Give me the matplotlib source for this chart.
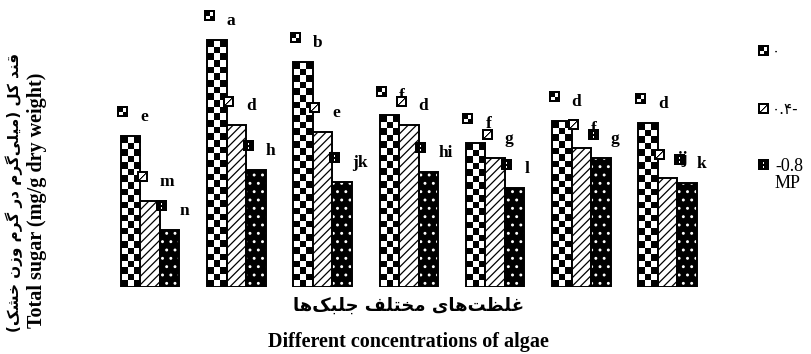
import numpy as np
import matplotlib
matplotlib.use("Agg")
import matplotlib.pyplot as plt

# mean total sugar per algae concentration (7 levels), three MP treatments
control = [7.54, 12.34, 11.25, 8.58, 7.20, 8.30, 8.20]
mp_04 = [4.30, 8.08, 7.75, 8.08, 6.42, 6.92, 5.42]
mp_08 = [2.84, 5.84, 5.25, 5.75, 4.92, 6.42, 5.17]

# Duncan letters
let_control = ["e", "a", "b", "f", "f", "d", "d"]
let_04 = ["m", "d", "e", "d", "g", "f", "ij"]
let_08 = ["n", "h", "jk", "hi", "l", "g", "k"]

legend_labels = ["۰", "۰.۴-", "-0.8\nMP"]
ylabel_fa = "قند کل (میلی‌گرم در گرم وزن خشک)"
ylabel_en = "Total sugar (mg/g dry weight)"
xlabel_fa = "غلظت‌های مختلف جلبک‌ها"
xlabel_en = "Different concentrations of algae"


# very small persian shaper (matplotlib has no shaping / bidi)
FORMS = {
    "ا": ("\uFE8D", "\uFE8E", None, None),
    "ب": ("\uFE8F", "\uFE90", "\uFE91", "\uFE92"),
    "ت": ("\uFE95", "\uFE96", "\uFE97", "\uFE98"),
    "ج": ("\uFE9D", "\uFE9E", "\uFE9F", "\uFEA0"),
    "خ": ("\uFEA5", "\uFEA6", "\uFEA7", "\uFEA8"),
    "د": ("\uFEA9", "\uFEAA", None, None),
    "ر": ("\uFEAD", "\uFEAE", None, None),
    "ز": ("\uFEAF", "\uFEB0", None, None),
    "ش": ("\uFEB5", "\uFEB6", "\uFEB7", "\uFEB8"),
    "ظ": ("\uFEC5", "\uFEC6", "\uFEC7", "\uFEC8"),
    "غ": ("\uFECD", "\uFECE", "\uFECF", "\uFED0"),
    "ف": ("\uFED1", "\uFED2", "\uFED3", "\uFED4"),
    "ق": ("\uFED5", "\uFED6", "\uFED7", "\uFED8"),
    "ل": ("\uFEDD", "\uFEDE", "\uFEDF", "\uFEE0"),
    "م": ("\uFEE1", "\uFEE2", "\uFEE3", "\uFEE4"),
    "ن": ("\uFEE5", "\uFEE6", "\uFEE7", "\uFEE8"),
    "ه": ("\uFEE9", "\uFEEA", "\uFEEB", "\uFEEC"),
    "و": ("\uFEED", "\uFEEE", None, None),
    "ی": ("\uFBFC", "\uFBFD", "\uFBFE", "\uFBFF"),
    "ک": ("\uFB8E", "\uFB8F", "\uFB90", "\uFB91"),
    "گ": ("\uFB92", "\uFB93", "\uFB94", "\uFB95"),
}


def shape(text):
    out = []
    for i, c in enumerate(text):
        if c not in FORMS:
            out.append(c)
            continue
        prev = text[i - 1] if i > 0 else None
        nxt = text[i + 1] if i + 1 < len(text) else None
        iso, fin, ini, med = FORMS[c]
        jp = prev in FORMS and FORMS[prev][2] is not None
        jn = nxt in FORMS and ini is not None
        if jp and jn:
            out.append(med)
        elif jp:
            out.append(fin)
        elif jn:
            out.append(ini)
        else:
            out.append(iso)
    s = "".join(ch for ch in out if ch != "\u200c")[::-1]
    return s.translate(str.maketrans("()", ")("))


W, H = 811, 354
fig = plt.figure(figsize=(W / 100, H / 100), dpi=100)
ax = fig.add_axes([106.9 / W, 1 - 286.7 / H, 603.9 / W, 280 / H])
ax.set_xlim(-0.5, 6.5)
ax.set_ylim(0, 14)
ax.set_autoscale_on(False)
ax.axis("off")

x = np.arange(len(control))
w = 0.226
px_per_unit = 20.0

# checkered bars (checker texture drawn as an image inside each bar)
for xi, v in zip(x, control):
    nrow = max(1, int(round(v * px_per_unit / 6.6)))
    chk = (np.add.outer(np.arange(nrow), np.arange(3)) % 2).astype(float)
    ax.imshow(chk, extent=(xi - 1.5 * w, xi - 0.5 * w, 0, v), aspect="auto",
              cmap="gray", vmin=0, vmax=1, interpolation="nearest", zorder=2)
b1 = ax.bar(x - w, control, w, color="none", edgecolor="black", lw=1.4, zorder=3)

# hatched bars
plt.rcParams["hatch.linewidth"] = 0.9
b2 = ax.bar(x, mp_04, w, color="white", edgecolor="black", hatch="////", lw=1.4, zorder=3)

# black bars with white dots
ax.bar(x + w, mp_08, w, color="black", edgecolor="white", hatch="..", lw=0, zorder=3)
b3 = ax.bar(x + w, mp_08, w, color="none", edgecolor="black", lw=1.4, zorder=4)


def icon(kind, n=11):
    a = np.zeros((n, n))
    if kind == "chk":
        a[2:6, 6:9] = 1
        a[6:9, 2:6] = 1
    elif kind == "hat":
        a[2:-2, 2:-2] = 1
        for k in range(2, n - 2):
            a[n - 1 - k, k] = 0
            if k + 1 < n - 2:
                a[n - 1 - k, k + 1] = 0.4
    else:
        a[3:5, 5] = 1
        a[7:9, 5] = 1
    return np.dstack([a, a, a])


icons = {"chk": icon("chk"), "hat": icon("hat"), "dot": icon("dot")}

fig.canvas.draw()
series = [(x - 1.5 * w, control, let_control, "chk"),
          (x - 0.5 * w, mp_04, let_04, "hat"),
          (x + 0.5 * w, mp_08, let_08, "dot")]
for lefts, vals, lets, kind in series:
    for xl, v, lab in zip(lefts, vals, lets):
        dx, dy = ax.transData.transform((xl, v))
        fig.figimage(icons[kind], xo=int(round(dx + 2 - 5.5)), yo=int(round(dy + 24 - 5.5)),
                     zorder=5, origin="upper")
        ax.annotate(lab, xy=(xl, v), xytext=(19.5, 15), textcoords="offset pixels",
                    ha="left", va="baseline", fontsize=12.5, fontweight="bold",
                    family="Liberation Serif", zorder=6, annotation_clip=False)

# legend at the right
leg_y = [51, 109, 165]
for kind, yy, lab in zip(["chk", "hat", "dot"], leg_y, legend_labels):
    fig.figimage(icons[kind], xo=758, yo=int(round(H - yy - 5.5)), origin="upper")
    if lab.startswith("-"):
        fig.text(775 / W, 1 - (yy - 7) / H, lab, ha="left", va="top", fontsize=13,
                 family="Liberation Serif", linespacing=1.0)
    else:
        fig.text(772 / W, 1 - yy / H, lab, ha="left", va="center", fontsize=11,
                 family="DejaVu Sans")

# axis titles
fig.text(14 / W, 1 - 192 / H, shape(ylabel_fa), rotation=90, ha="center", va="center",
         fontsize=11, fontweight="bold", family="DejaVu Sans")
fig.text(37 / W, 1 - 200 / H, ylabel_en, rotation=90, ha="center", va="center",
         fontsize=14.5, fontweight="bold", family="Liberation Serif")
fig.text(409 / W, 1 - 306 / H, shape(xlabel_fa), ha="center", va="center",
         fontsize=13, fontweight="bold", family="DejaVu Sans")
fig.text(408 / W, 1 - 342 / H, xlabel_en, ha="center", va="center",
         fontsize=14.5, fontweight="bold", family="Liberation Serif")

fig.savefig("out.png", dpi=100)
